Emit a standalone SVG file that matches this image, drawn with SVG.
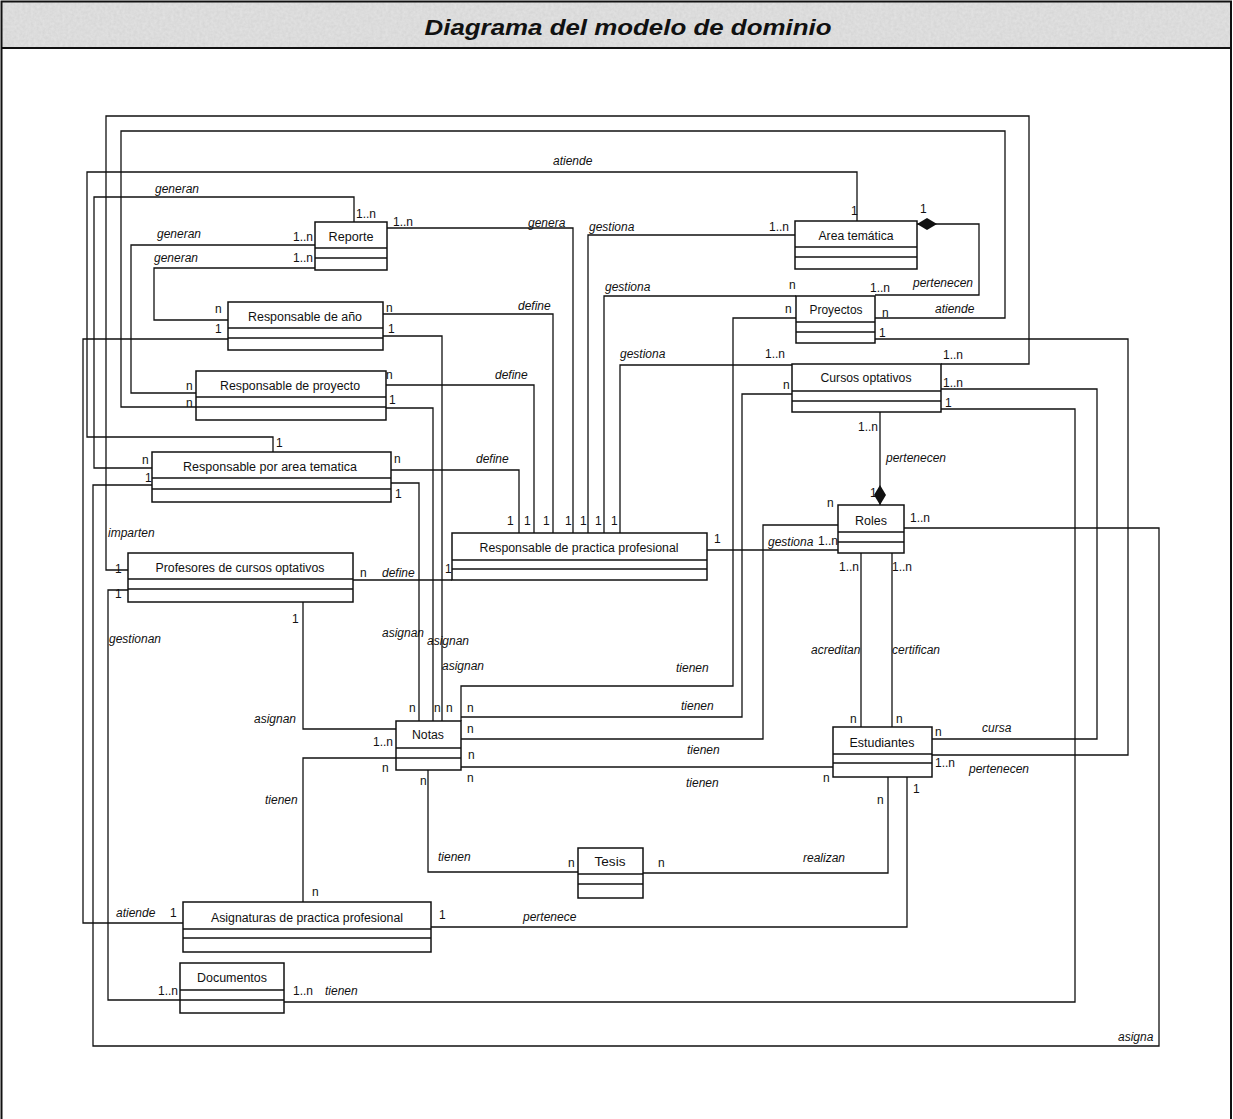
<svg xmlns="http://www.w3.org/2000/svg" width="1233" height="1119" viewBox="0 0 1233 1119">
  <defs>
    <style>
      .box rect { fill: #ffffff; stroke: #111; stroke-width: 1.5; }
      .box line { stroke: #111; stroke-width: 1.4; }
      .nm { font-family: "Liberation Sans", Arial, sans-serif; font-size: 12.5px; fill: #111; text-anchor: middle; }
      .conn path { fill: none; stroke: #111; stroke-width: 1.3; }
      .lbl { font-family: "Liberation Sans", Arial, sans-serif; font-size: 12px; font-style: italic; fill: #111; }
      .m { font-family: "Liberation Sans", Arial, sans-serif; font-size: 12px; fill: #111; }
      .title { font-family: "Liberation Sans", Arial, sans-serif; font-size: 22px; font-weight: bold; font-style: italic; fill: #111; text-anchor: middle; }
    </style>
    <marker id="diamond" markerUnits="userSpaceOnUse" viewBox="0 0 20 12" refX="0" refY="6" markerWidth="20" markerHeight="12" orient="auto">
      <path d="M0,6 L10,0 L20,6 L10,12 Z" fill="#111"/>
    </marker>
    <filter id="grain" x="0" y="0" width="100%" height="100%">
      <feTurbulence type="fractalNoise" baseFrequency="0.35" numOctaves="2" seed="4"/>
      <feColorMatrix type="matrix" values="0 0 0 0 0.55  0 0 0 0 0.55  0 0 0 0 0.55  0 0 0 -1.2 1.05"/>
    </filter>
  </defs>

  <!-- page -->
  <rect x="0" y="0" width="1233" height="1119" fill="#ffffff"/>

  <!-- title bar -->
  <rect x="1" y="1" width="1230" height="47" fill="#e2e2e2"/>
  <rect x="1" y="1" width="1230" height="47" filter="url(#grain)" opacity="0.45"/>
  <text class="title" x="628" y="35" textLength="407" lengthAdjust="spacingAndGlyphs">Diagrama del modelo de dominio</text>

  <!-- frame -->
  <path d="M1.5,1119 V1.5 H1231 V1119 M1.5,48 H1231" fill="none" stroke="#111" stroke-width="2"/>

  <!-- associations -->
  <g id="connectors" class="conn">
    <path d="M941,364 H1029 V116 H106 V570 H128"/>
    <path d="M875,318 H1005 V131 H121 V407 H196"/>
    <path d="M857,221 V172 H87 V437 H273 V452"/>
    <path d="M354,222 V197 H94 V468 H152"/>
    <path d="M315,245 H131 V393 H196"/>
    <path d="M315,268 H154 V320 H228"/>
    <path d="M387,228 H573 V533"/>
    <path d="M795,235 H588 V533"/>
    <path d="M796,296 H604 V533"/>
    <path d="M792,365 H620 V533"/>
    <path d="M383,314 H553 V533"/>
    <path d="M386,385 H534 V533"/>
    <path d="M391,470 H519 V533"/>
    <path d="M353,580 H452"/>
    <path d="M228,339 H83 V923 H183"/>
    <path d="M383,336 H442 V721"/>
    <path d="M386,408 H433 V721"/>
    <path d="M391,483 H419 V721"/>
    <path d="M303,602 V729 H396"/>
    <path d="M396,758 H303 V902"/>
    <path d="M428,770 V872 H578"/>
    <path d="M461,721 V686 H733 V318 H796"/>
    <path d="M461,717 H742 V394 H792"/>
    <path d="M461,739 H763 V525 H838"/>
    <path d="M461,767 H833"/>
    <path d="M707,550 H838"/>
    <path d="M880,505 V412" marker-start="url(#diamond)"/>
    <path d="M917,224 H979 V295 H875" marker-start="url(#diamond)"/>
    <path d="M904,528 H1159 V1046 H93 V485 H152"/>
    <path d="M861,553 V727"/>
    <path d="M892,553 V727"/>
    <path d="M932,739 H1097 V389 H941"/>
    <path d="M932,755 H1128 V339 H875"/>
    <path d="M888,777 V873 H643"/>
    <path d="M907,777 V927 H431"/>
    <path d="M941,409 H1075 V1002 H284"/>
    <path d="M128,590 H108 V1000 H180"/>
  </g>

  <!-- classes -->
  <g id="reporte" class="box">
    <rect x="315" y="222" width="72" height="48"/>
    <line x1="315" y1="248" x2="387" y2="248"/><line x1="315" y1="258" x2="387" y2="258"/>
    <text class="nm" x="351" y="241" textLength="45" lengthAdjust="spacingAndGlyphs">Reporte</text>
  </g>
  <g id="responsable-anio" class="box">
    <rect x="228" y="302" width="155" height="48"/>
    <line x1="228" y1="328" x2="383" y2="328"/><line x1="228" y1="338" x2="383" y2="338"/>
    <text class="nm" x="305" y="321" textLength="114" lengthAdjust="spacingAndGlyphs">Responsable de año</text>
  </g>
  <g id="responsable-proyecto" class="box">
    <rect x="196" y="371" width="190" height="49"/>
    <line x1="196" y1="397" x2="386" y2="397"/><line x1="196" y1="407" x2="386" y2="407"/>
    <text class="nm" x="290" y="390" textLength="140" lengthAdjust="spacingAndGlyphs">Responsable de proyecto</text>
  </g>
  <g id="responsable-area" class="box">
    <rect x="152" y="452" width="239" height="50"/>
    <line x1="152" y1="478" x2="391" y2="478"/><line x1="152" y1="489" x2="391" y2="489"/>
    <text class="nm" x="270" y="471" textLength="174" lengthAdjust="spacingAndGlyphs">Responsable por area tematica</text>
  </g>
  <g id="profesores" class="box">
    <rect x="128" y="553" width="225" height="49"/>
    <line x1="128" y1="579" x2="353" y2="579"/><line x1="128" y1="589" x2="353" y2="589"/>
    <text class="nm" x="240" y="572" textLength="169" lengthAdjust="spacingAndGlyphs">Profesores de cursos optativos</text>
  </g>
  <g id="responsable-practica" class="box">
    <rect x="452" y="533" width="255" height="47"/>
    <line x1="452" y1="560" x2="707" y2="560"/><line x1="452" y1="569" x2="707" y2="569"/>
    <text class="nm" x="579" y="552" textLength="199" lengthAdjust="spacingAndGlyphs">Responsable de practica profesional</text>
  </g>
  <g id="area-tematica" class="box">
    <rect x="795" y="221" width="122" height="48"/>
    <line x1="795" y1="247" x2="917" y2="247"/><line x1="795" y1="257" x2="917" y2="257"/>
    <text class="nm" x="856" y="240" textLength="75" lengthAdjust="spacingAndGlyphs">Area temática</text>
  </g>
  <g id="proyectos" class="box">
    <rect x="796" y="296" width="79" height="47"/>
    <line x1="796" y1="322" x2="875" y2="322"/><line x1="796" y1="332" x2="875" y2="332"/>
    <text class="nm" x="836" y="314" textLength="53" lengthAdjust="spacingAndGlyphs">Proyectos</text>
  </g>
  <g id="cursos-optativos" class="box">
    <rect x="792" y="364" width="149" height="48"/>
    <line x1="792" y1="391" x2="941" y2="391"/><line x1="792" y1="401" x2="941" y2="401"/>
    <text class="nm" x="866" y="382" textLength="91" lengthAdjust="spacingAndGlyphs">Cursos optativos</text>
  </g>
  <g id="roles" class="box">
    <rect x="838" y="505" width="66" height="48"/>
    <line x1="838" y1="532" x2="904" y2="532"/><line x1="838" y1="542" x2="904" y2="542"/>
    <text class="nm" x="871" y="525" textLength="32" lengthAdjust="spacingAndGlyphs">Roles</text>
  </g>
  <g id="notas" class="box">
    <rect x="396" y="721" width="65" height="49"/>
    <line x1="396" y1="748" x2="461" y2="748"/><line x1="396" y1="758" x2="461" y2="758"/>
    <text class="nm" x="428" y="739" textLength="32" lengthAdjust="spacingAndGlyphs">Notas</text>
  </g>
  <g id="estudiantes" class="box">
    <rect x="833" y="727" width="99" height="50"/>
    <line x1="833" y1="754" x2="932" y2="754"/><line x1="833" y1="763" x2="932" y2="763"/>
    <text class="nm" x="882" y="747" textLength="65" lengthAdjust="spacingAndGlyphs">Estudiantes</text>
  </g>
  <g id="tesis" class="box">
    <rect x="578" y="848" width="65" height="50"/>
    <line x1="578" y1="874" x2="643" y2="874"/><line x1="578" y1="884" x2="643" y2="884"/>
    <text class="nm" x="610" y="866" textLength="31" lengthAdjust="spacingAndGlyphs">Tesis</text>
  </g>
  <g id="asignaturas" class="box">
    <rect x="183" y="902" width="248" height="50"/>
    <line x1="183" y1="929" x2="431" y2="929"/><line x1="183" y1="938" x2="431" y2="938"/>
    <text class="nm" x="307" y="922" textLength="192" lengthAdjust="spacingAndGlyphs">Asignaturas de practica profesional</text>
  </g>
  <g id="documentos" class="box">
    <rect x="180" y="963" width="104" height="50"/>
    <line x1="180" y1="990" x2="284" y2="990"/><line x1="180" y1="1000" x2="284" y2="1000"/>
    <text class="nm" x="232" y="982" textLength="70" lengthAdjust="spacingAndGlyphs">Documentos</text>
  </g>

  <!-- association names -->
  <g id="association-names">
    <text class="lbl" x="553" y="165">atiende</text>
    <text class="lbl" x="155" y="193">generan</text>
    <text class="lbl" x="157" y="238">generan</text>
    <text class="lbl" x="154" y="262">generan</text>
    <text class="lbl" x="528" y="227">genera</text>
    <text class="lbl" x="589" y="231">gestiona</text>
    <text class="lbl" x="605" y="291">gestiona</text>
    <text class="lbl" x="518" y="310">define</text>
    <text class="lbl" x="913" y="287">pertenecen</text>
    <text class="lbl" x="935" y="313">atiende</text>
    <text class="lbl" x="620" y="358">gestiona</text>
    <text class="lbl" x="495" y="379">define</text>
    <text class="lbl" x="476" y="463">define</text>
    <text class="lbl" x="886" y="462">pertenecen</text>
    <text class="lbl" x="108" y="537">imparten</text>
    <text class="lbl" x="382" y="577">define</text>
    <text class="lbl" x="768" y="546">gestiona</text>
    <text class="lbl" x="109" y="643">gestionan</text>
    <text class="lbl" x="382" y="637">asignan</text>
    <text class="lbl" x="427" y="645">asignan</text>
    <text class="lbl" x="442" y="670">asignan</text>
    <text class="lbl" x="811" y="654">acreditan</text>
    <text class="lbl" x="892" y="654">certifican</text>
    <text class="lbl" x="676" y="672">tienen</text>
    <text class="lbl" x="681" y="710">tienen</text>
    <text class="lbl" x="254" y="723">asignan</text>
    <text class="lbl" x="982" y="732">cursa</text>
    <text class="lbl" x="687" y="754">tienen</text>
    <text class="lbl" x="969" y="773">pertenecen</text>
    <text class="lbl" x="686" y="787">tienen</text>
    <text class="lbl" x="265" y="804">tienen</text>
    <text class="lbl" x="438" y="861">tienen</text>
    <text class="lbl" x="803" y="862">realizan</text>
    <text class="lbl" x="116" y="917">atiende</text>
    <text class="lbl" x="523" y="921">pertenece</text>
    <text class="lbl" x="325" y="995">tienen</text>
    <text class="lbl" x="1118" y="1041">asigna</text>
  </g>

  <!-- multiplicities -->
  <g id="multiplicities">
    <text class="m" x="851" y="215">1</text>
    <text class="m" x="920" y="213">1</text>
    <text class="m" x="356" y="218">1..n</text>
    <text class="m" x="393" y="226">1..n</text>
    <text class="m" x="293" y="241">1..n</text>
    <text class="m" x="293" y="262">1..n</text>
    <text class="m" x="769" y="231">1..n</text>
    <text class="m" x="789" y="289">n</text>
    <text class="m" x="870" y="292">1..n</text>
    <text class="m" x="215" y="313">n</text>
    <text class="m" x="215" y="333">1</text>
    <text class="m" x="386" y="312">n</text>
    <text class="m" x="388" y="333">1</text>
    <text class="m" x="785" y="313">n</text>
    <text class="m" x="882" y="317">n</text>
    <text class="m" x="879" y="337">1</text>
    <text class="m" x="943" y="359">1..n</text>
    <text class="m" x="765" y="358">1..n</text>
    <text class="m" x="386" y="379">n</text>
    <text class="m" x="186" y="390">n</text>
    <text class="m" x="943" y="387">1..n</text>
    <text class="m" x="783" y="389">n</text>
    <text class="m" x="389" y="404">1</text>
    <text class="m" x="186" y="407">n</text>
    <text class="m" x="945" y="407">1</text>
    <text class="m" x="858" y="431">1..n</text>
    <text class="m" x="276" y="447">1</text>
    <text class="m" x="394" y="463">n</text>
    <text class="m" x="142" y="464">n</text>
    <text class="m" x="145" y="482">1</text>
    <text class="m" x="870" y="497">1</text>
    <text class="m" x="395" y="498">1</text>
    <text class="m" x="827" y="507">n</text>
    <text class="m" x="910" y="522">1..n</text>
    <text class="m" x="507" y="525">1</text>
    <text class="m" x="524" y="525">1</text>
    <text class="m" x="543" y="525">1</text>
    <text class="m" x="565" y="525">1</text>
    <text class="m" x="580" y="525">1</text>
    <text class="m" x="595" y="525">1</text>
    <text class="m" x="611" y="525">1</text>
    <text class="m" x="714" y="543">1</text>
    <text class="m" x="818" y="545">1..n</text>
    <text class="m" x="839" y="571">1..n</text>
    <text class="m" x="892" y="571">1..n</text>
    <text class="m" x="115" y="573">1</text>
    <text class="m" x="360" y="577">n</text>
    <text class="m" x="445" y="573">1</text>
    <text class="m" x="115" y="598">1</text>
    <text class="m" x="292" y="623">1</text>
    <text class="m" x="409" y="712">n</text>
    <text class="m" x="434" y="712">n</text>
    <text class="m" x="446" y="712">n</text>
    <text class="m" x="467" y="712">n</text>
    <text class="m" x="850" y="723">n</text>
    <text class="m" x="896" y="723">n</text>
    <text class="m" x="467" y="733">n</text>
    <text class="m" x="935" y="736">n</text>
    <text class="m" x="373" y="746">1..n</text>
    <text class="m" x="468" y="759">n</text>
    <text class="m" x="935" y="767">1..n</text>
    <text class="m" x="382" y="772">n</text>
    <text class="m" x="467" y="782">n</text>
    <text class="m" x="823" y="782">n</text>
    <text class="m" x="420" y="785">n</text>
    <text class="m" x="913" y="793">1</text>
    <text class="m" x="877" y="804">n</text>
    <text class="m" x="568" y="867">n</text>
    <text class="m" x="658" y="867">n</text>
    <text class="m" x="312" y="896">n</text>
    <text class="m" x="170" y="917">1</text>
    <text class="m" x="439" y="919">1</text>
    <text class="m" x="158" y="995">1..n</text>
    <text class="m" x="293" y="995">1..n</text>
  </g>
</svg>
